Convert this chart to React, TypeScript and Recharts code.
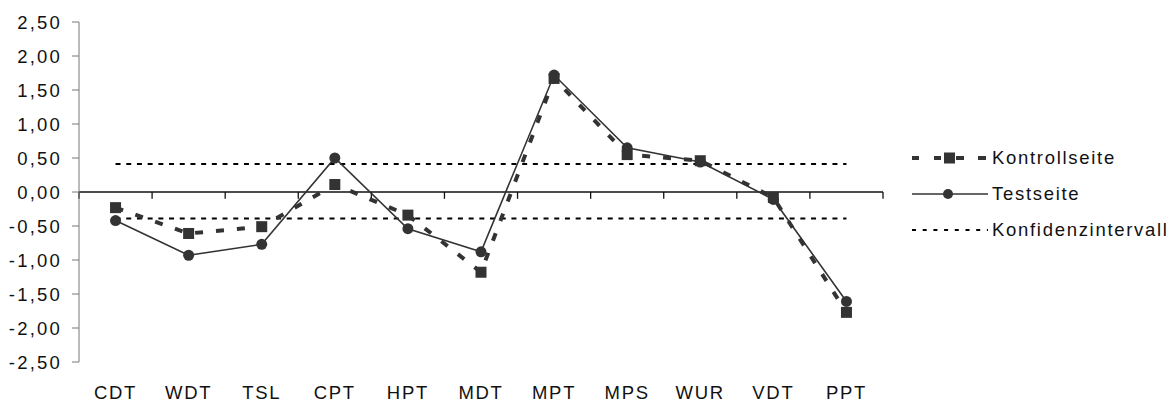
import { Line, LineChart, ReferenceLine, XAxis, YAxis } from "recharts";

const categories = ["CDT", "WDT", "TSL", "CPT", "HPT", "MDT", "MPT", "MPS", "WUR", "VDT", "PPT"];
const kontrollseite = [-0.23, -0.61, -0.51, 0.11, -0.34, -1.18, 1.67, 0.55, 0.46, -0.08, -1.77];
const testseite = [-0.42, -0.93, -0.77, 0.5, -0.54, -0.88, 1.72, 0.65, 0.44, -0.11, -1.61];
const konfidenzOben = [0.41, 0.41, 0.41, 0.41, 0.41, 0.41, 0.41, 0.41, 0.41, 0.41, 0.41];
const konfidenzUnten = [-0.39, -0.39, -0.39, -0.39, -0.39, -0.39, -0.39, -0.39, -0.39, -0.39, -0.39];
const yTicks = [-2.5, -2, -1.5, -1, -0.5, 0, 0.5, 1, 1.5, 2, 2.5];

const data = categories.map((name, i) => ({
  idx: i,
  name,
  kontroll: kontrollseite[i],
  test: testseite[i],
  ciHigh: konfidenzOben[i],
  ciLow: konfidenzUnten[i],
}));

const boundaries = Array.from({ length: categories.length + 1 }, (_, i) => i - 0.5);

const INK = "#333";
const FONT = "'Liberation Sans', Arial, sans-serif";

const SquareDot = (props: any) => {
  const { cx, cy } = props;
  if (cx == null || cy == null) return null;
  return <rect x={cx - 5.5} y={cy - 5.5} width={11} height={11} fill={INK} />;
};

const fmt = (v: number) => v.toFixed(2).replace(".", ",");

const LegendRow = ({ kind, label }: { kind: string; label: string }) => (
  <div style={{ display: "flex", alignItems: "center", height: 36 }}>
    <svg width={78} height={20} style={{ marginRight: 2 }}>
      {kind === "kontroll" && (
        <>
          <line x1={0} y1={10} x2={76} y2={10} stroke={INK} strokeWidth={4} strokeDasharray="7 15" />
          <rect x={32} y={4.5} width={11} height={11} fill={INK} />
          <line x1={43} y1={10} x2={76} y2={10} stroke={INK} strokeWidth={4} strokeDasharray="7 15" strokeDashoffset={-2} />
        </>
      )}
      {kind === "test" && (
        <>
          <line x1={0} y1={10} x2={76} y2={10} stroke={INK} strokeWidth={1.6} />
          <circle cx={36} cy={10} r={5} fill={INK} />
        </>
      )}
      {kind === "ci" && (
        <line x1={0} y1={10} x2={76} y2={10} stroke="#000" strokeWidth={2} strokeDasharray="4 6.7" />
      )}
    </svg>
    <span style={{ fontFamily: FONT, fontSize: 18.5, letterSpacing: 1.7, color: "#111" }}>{label}</span>
  </div>
);

export default function App() {
  return (
    <div style={{ position: "absolute", left: 0, top: 0, width: 1171, height: 405, background: "#fff" }}>
      <LineChart
        width={1171}
        height={405}
        data={data}
        margin={{ top: 22, right: 288, bottom: 0, left: 0 }}
      >
        <XAxis
          dataKey="idx"
          type="number"
          domain={[-0.5, 10.5]}
          ticks={data.map((d) => d.idx)}
          tickFormatter={(v: number) => categories[v]}
          axisLine={false}
          tickLine={false}
          tickSize={0}
          tickMargin={24}
          height={43}
          interval={0}
          tick={{ fill: "#111", fontFamily: FONT, fontSize: 18.5, letterSpacing: 1.7 }}
        />
        <YAxis
          domain={[-2.5, 2.5]}
          ticks={yTicks}
          tickFormatter={fmt}
          width={79}
          tickSize={7}
          tickMargin={10}
          stroke="#777"
          tick={{ fill: "#111", fontFamily: FONT, fontSize: 18.5, letterSpacing: 2.2 }}
          allowDataOverflow
        />
        <ReferenceLine y={0} stroke="#111" strokeWidth={1.3} />
        {boundaries.map((b) => (
          <ReferenceLine
            key={b}
            segment={[
              { x: b, y: 0 },
              { x: b, y: -0.1 },
            ]}
            stroke="#111"
            strokeWidth={1.3}
          />
        ))}
        <Line
          dataKey="ciHigh"
          stroke="#000"
          strokeWidth={2}
          strokeDasharray="5 5.7"
          dot={false}
          isAnimationActive={false}
        />
        <Line
          dataKey="ciLow"
          stroke="#000"
          strokeWidth={2}
          strokeDasharray="5 5.7"
          dot={false}
          isAnimationActive={false}
        />
        <Line
          dataKey="kontroll"
          stroke={INK}
          strokeWidth={4}
          strokeDasharray="8 13"
          dot={<SquareDot />}
          isAnimationActive={false}
        />
        <Line
          dataKey="test"
          stroke={INK}
          strokeWidth={1.6}
          dot={{ r: 5.5, fill: INK, stroke: INK, strokeWidth: 0 }}
          isAnimationActive={false}
        />
      </LineChart>
      <div style={{ position: "absolute", left: 912, top: 140 }}>
        <LegendRow kind="kontroll" label="Kontrollseite" />
        <LegendRow kind="test" label="Testseite" />
        <LegendRow kind="ci" label="Konfidenzintervall" />
      </div>
    </div>
  );
}
